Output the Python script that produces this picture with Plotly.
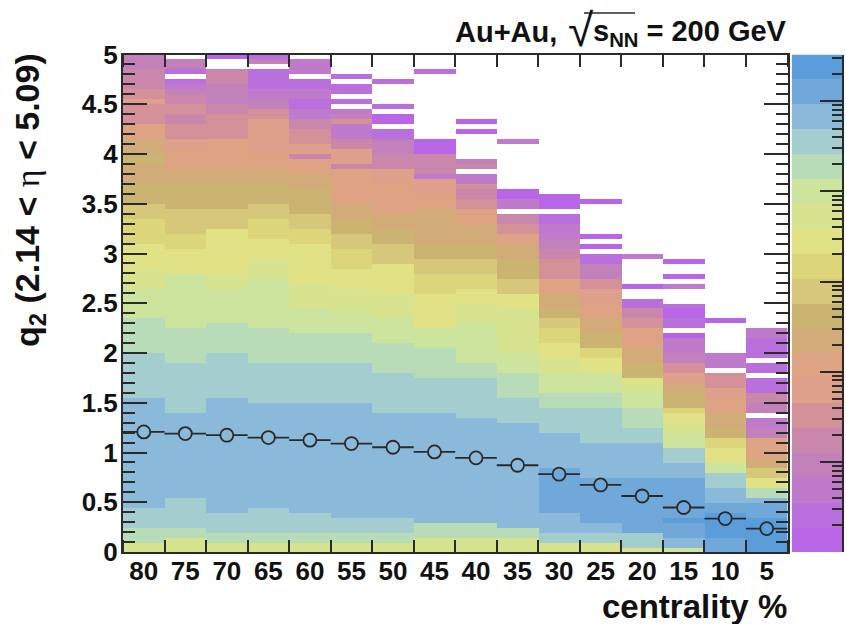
import math
import plotly.graph_objects as go

W, H = 846, 624

# Per-column colour-level runs: (level, top bin exclusive), 0 = empty. Bin width is 0.05 in q2.
centrality = [80, 75, 70, 65, 60, 55, 50, 45, 40, 35, 30, 25, 20, 15, 10, 5]
c80 = [(14,2),(16,5),(17,9),(18,31),(17,40),(16,47),(15,53),(14,57),(13,62),(12,67),(11,70),(10,74),(9,78),(10,80),(9,83),(8,86),(6,90),(7,91),(6,93),(5,97),(4,100)]
c75 = [(14,3),(16,5),(17,11),(18,28),(17,38),(16,45),(15,56),(13,61),(12,64),(11,69),(10,74),(9,77),(8,81),(7,83),(6,86),(5,88),(6,90),(5,92),(4,93),(3,94),(2,95),(0,96),(2,97),(4,99),(0,100)]
c70 = [(14,2),(16,4),(17,8),(18,31),(17,40),(16,46),(15,53),(14,56),(13,65),(12,65),(11,69),(10,74),(9,77),(8,83),(6,88),(5,90),(4,94),(5,97),(0,99),(1,100)]
c65 = [(14,2),(16,4),(17,9),(18,30),(17,38),(16,45),(15,55),(14,59),(13,63),(12,67),(11,70),(10,74),(9,77),(8,80),(7,87),(6,89),(4,91),(3,93),(2,97),(0,98),(4,99),(2,100)]
c60 = [(14,2),(16,4),(17,8),(18,30),(17,38),(16,44),(15,49),(14,54),(13,62),(12,65),(11,68),(10,73),(9,76),(8,79),(5,80),(7,82),(6,85),(5,87),(3,89),(2,91),(3,93),(2,95),(0,96),(3,99),(0,100)]
c55 = [(14,2),(16,4),(17,7),(18,30),(17,38),(16,44),(15,48),(14,53),(13,57),(12,61),(11,64),(10,67),(9,70),(8,77),(5,78),(7,81),(5,83),(3,86),(6,87),(4,88),(3,89),(0,90),(2,91),(0,92),(2,94),(0,95),(2,96),(0,100)]
c50 = [(14,2),(16,4),(17,7),(18,28),(17,36),(16,42),(15,47),(14,52),(13,58),(11,62),(10,65),(9,68),(8,74),(7,77),(5,80),(4,83),(2,85),(0,86),(1,88),(0,89),(2,90),(0,94),(2,95),(0,100)]
c45 = [(14,3),(16,6),(18,28),(17,35),(16,41),(15,45),(13,52),(12,56),(11,59),(10,62),(9,69),(8,72),(7,75),(3,76),(5,80),(1,83),(0,96),(2,97),(0,100)]
c40 = [(14,3),(16,6),(18,27),(17,35),(16,38),(15,46),(14,50),(13,53),(12,56),(11,59),(10,62),(9,66),(8,69),(6,71),(5,73),(6,74),(3,76),(0,77),(5,78),(4,79),(0,84),(1,85),(0,86),(1,87),(0,100)]
c35 = [(14,3),(16,5),(18,26),(17,31),(16,36),(15,40),(14,49),(13,52),(11,55),(10,59),(9,62),(8,64),(6,66),(5,68),(0,69),(3,71),(1,73),(0,82),(3,83),(0,100)]
c30 = [(14,2),(17,4),(18,8),(19,17),(18,24),(17,29),(16,32),(15,36),(14,39),(13,42),(12,45),(11,47),(10,49),(9,52),(8,55),(6,59),(5,61),(4,63),(3,66),(2,68),(0,69),(1,72),(0,100)]
c25 = [(14,2),(17,4),(18,6),(19,15),(18,22),(17,29),(16,32),(15,36),(13,39),(12,41),(10,44),(9,47),(8,50),(7,53),(6,55),(4,58),(2,60),(0,61),(1,62),(0,63),(1,64),(0,70),(1,71),(0,100)]
c20 = [(14,1),(17,4),(19,15),(18,22),(17,25),(16,29),(15,32),(14,34),(13,35),(10,38),(9,41),(8,45),(6,47),(5,49),(2,51),(0,53),(1,54),(0,59),(3,60),(0,100)]
c15 = [(15,1),(18,3),(19,6),(20,7),(19,15),(18,18),(17,21),(15,24),(14,26),(13,28),(12,29),(10,32),(9,34),(7,36),(6,38),(4,40),(3,43),(1,44),(0,45),(2,47),(1,49),(2,50),(0,53),(3,54),(0,55),(1,56),(0,58),(1,59),(0,100)]
c10 = [(19,3),(20,8),(19,10),(18,13),(17,16),(15,18),(13,21),(12,23),(10,25),(9,28),(8,31),(7,33),(6,36),(0,37),(3,40),(0,46),(1,47),(0,100)]
c5 = [(20,7),(19,10),(18,11),(16,13),(13,15),(11,17),(9,19),(8,23),(4,25),(3,27),(0,28),(4,30),(5,32),(2,35),(0,36),(2,38),(0,39),(2,43),(3,45),(0,100)]
columns = [c80, c75, c70, c65, c60, c55, c50, c45, c40, c35, c30, c25, c20, c15, c10, c5]

q2_mean = [1.207, 1.19, 1.174, 1.15, 1.124, 1.09, 1.053, 1.006, 0.946, 0.872, 0.782, 0.674, 0.563, 0.447, 0.336, 0.235]

# Colours from level 1 (bottom of the palette strip) to level 20 (top)
palette = ["#b866e6", "#b96fdc", "#bf7acc", "#c381bb", "#c887ab", "#d4919a", "#de9f8b", "#dda383",
           "#d2ac78", "#cbb372", "#d6c77a", "#ddd57a", "#e0e285", "#d8e38f", "#cde49f", "#b8dcb8",
           "#a4cdd0", "#8bb9da", "#70a9d9", "#5b9cda"]
y_ticks = [0, 0.5, 1, 1.5, 2, 2.5, 3, 3.5, 4, 4.5, 5]
decades = [0, 1, 2, 3, 4, 5]
decade_top = 5.52
INK = "#2a2a2a"
FONT = "Liberation Sans"

NB = 100
bin_w = 0.05
ys = [(i + 0.5) * bin_w for i in range(NB)]


def expand(runs):
    out, b = [], 0
    for lev, top in runs:
        while b < top and b < NB:
            out.append(lev if lev else None)
            b += 1
    out += [None] * (NB - len(out))
    return out


cols = [expand(c) for c in columns]
z = [[cols[j][i] for j in range(16)] for i in range(NB)]

cs = []
for i, c in enumerate(palette):
    cs.append([i / 20, c])
    cs.append([(i + 1) / 20, c])

fig = go.Figure()
fig.add_trace(go.Heatmap(x=centrality, y=ys, z=z, colorscale=cs, zmin=0.5, zmax=20.5,
                         showscale=False, hoverongaps=False, zsmooth=False, xaxis="x", yaxis="y"))

fills = []
for j, m in enumerate(q2_mean):
    lev = cols[j][int(m / bin_w)]
    fills.append(palette[lev - 1])
fig.add_trace(go.Scatter(x=centrality, y=q2_mean, mode="markers",
                         marker=dict(symbol="circle", size=13, color=fills, line=dict(color=INK, width=1.8)),
                         error_x=dict(type="constant", value=2.5, width=0, thickness=1.8, color=INK),
                         xaxis="x", yaxis="y", showlegend=False))

# palette strip
band = decade_top / 20
cb_edges = [band * i for i in range(21)]
fig.add_trace(go.Heatmap(x=[0, 1], y=cb_edges, z=[[i + 1] for i in range(20)], colorscale=cs,
                         zmin=0.5, zmax=20.5, showscale=False, zsmooth=False, xaxis="x2", yaxis="y2"))

edges = [c + 2.5 for c in centrality] + [2.5]
minor_cb = [d + math.log10(k) for d in range(6) for k in range(2, 10) if d + math.log10(k) < decade_top]

L, R, T, B = 123.0, 787.5, 54.5, 552.0
bf = dict(family=FONT, size=26, color="#111111", weight="bold")
fig.update_layout(
    template="none",
    width=W, height=H, margin=dict(l=0, r=0, t=0, b=0, pad=0), paper_bgcolor="white", plot_bgcolor="white",
    showlegend=False,
    xaxis=dict(domain=[L / W, R / W], range=[82.5, 2.5], anchor="y", tickmode="array", automargin=False,
               tickvals=centrality, ticktext=[str(c) for c in centrality], ticks="", showgrid=False, zeroline=False,
               showline=True, linecolor=INK, linewidth=2, mirror="ticks", tickfont=bf, ticklabelstandoff=-5,
               minor=dict(tickmode="array", tickvals=edges, ticks="inside", ticklen=12, tickwidth=1.5,
                          tickcolor=INK, showgrid=False)),
    yaxis=dict(domain=[(H - B) / H, (H - T) / H], range=[0, 5], anchor="x", tickmode="array", automargin=False,
               tickvals=y_ticks, ticktext=[f"{v:g}" for v in y_ticks], ticks="inside", ticklen=24, tickwidth=1.5,
               tickcolor=INK, showgrid=False, zeroline=False, showline=True, linecolor=INK, linewidth=2,
               mirror="ticks", tickfont=bf, ticklabelstandoff=-2,
               minor=dict(tick0=0, dtick=0.1, ticks="inside", ticklen=12, tickwidth=1.5, tickcolor=INK, showgrid=False)),
    xaxis2=dict(domain=[791.7 / W, 842.3 / W], range=[0, 1], anchor="y2", visible=False, automargin=False),
    yaxis2=dict(domain=[(H - B) / H, (H - T) / H], range=[0, decade_top], anchor="x2", side="right", automargin=False,
                tickmode="array", tickvals=decades, ticks="inside", ticklen=23, tickwidth=1.5, tickcolor=INK,
                showticklabels=False, showgrid=False, zeroline=False, showline=True, linecolor=INK, linewidth=1.5,
                minor=dict(tickmode="array", tickvals=minor_cb, ticks="inside", ticklen=11, tickwidth=1.5,
                           tickcolor=INK, showgrid=False)),
    shapes=[dict(type="line", xref="paper", yref="paper", x0=584 / W, x1=635 / W,
                 y0=1 - 13 / H, y1=1 - 13 / H, line=dict(color=INK, width=1.3))],
)


def note(text, x, y, size, xanchor="left", yanchor="middle", angle=0, weight="bold"):
    fig.add_annotation(text=text, xref="paper", yref="paper", x=x / W, y=1 - y / H, showarrow=False,
                       xanchor=xanchor, yanchor=yanchor, textangle=angle, borderpad=0, borderwidth=0,
                       font=dict(family=FONT, size=size, color="#111111", weight=weight))


note("Au+Au,", 455, 32, 29)
note("√", 568, 30, 46, weight="normal")
note("s<sub>NN</sub> = 200 GeV", 787, 33, 29, xanchor="right")
note("centrality %", 787, 606, 33, xanchor="right")
note('<b>q<sub>2</sub> (2.14 &lt; </b><span style="font-family:Liberation Serif">η</span><b> &lt; 5.09)</b>',
     30, 200, 34, xanchor="center", angle=-90, weight="normal")

fig.write_html("out.html", config=dict(displayModeBar=False), post_script="document.body.style.margin='0';")
